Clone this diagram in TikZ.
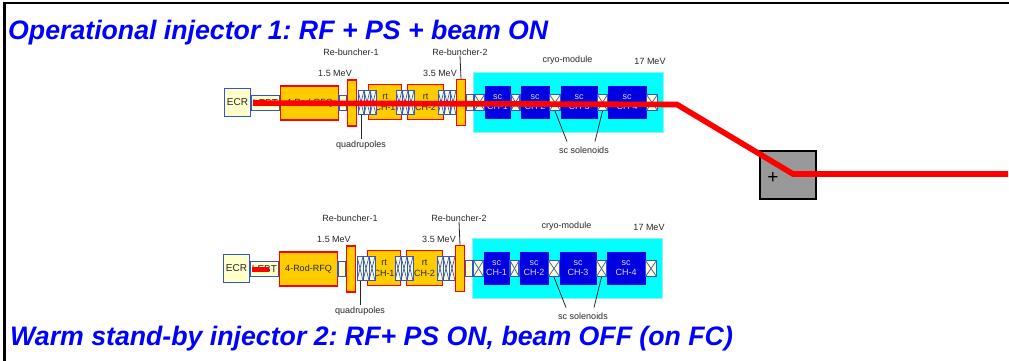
\documentclass[tikz,border=0pt]{standalone}
\usepackage{fontspec}
\setmainfont{Liberation Sans}
\usepackage{xcolor}
\usetikzlibrary{positioning, calc}
\definecolor{cellyellow}{HTML}{FFFFCC}
\definecolor{cellblue}{HTML}{3355CC}
\definecolor{tankorange}{HTML}{FFCC00}
\definecolor{scblue}{HTML}{0000E0}
\definecolor{cryofill}{HTML}{00FFFF}
\definecolor{cryoedge}{HTML}{99EEEE}
\definecolor{beamred}{HTML}{FF0000}
\definecolor{titleblue}{HTML}{0000FF}
\frenchspacing
\tikzset{
  lowbox/.style={draw=cellblue, fill=cellyellow, line width=1.2pt, inner sep=0pt, text=black!85, font=\fontsize{10}{10}\selectfont},
  tankbox/.style={draw=beamred, fill=tankorange, line width=1.1pt, inner sep=0pt, align=center, text=black!85, font=\fontsize{9}{10.5}\selectfont},
  crossbox/.style={lowbox, path picture={
    \draw[cellblue, line width=0.7pt] (path picture bounding box.south west) -- (path picture bounding box.north east);
    \draw[cellblue, line width=0.7pt] (path picture bounding box.north west) -- (path picture bounding box.south east);}},
  cryobox/.style={draw=cryoedge, fill=cryofill, line width=0.8pt, inner sep=0pt},
  scbox/.style={draw=titleblue, fill=scblue, inner sep=0pt, align=center, text=white!85!blue, font=\fontsize{9}{10.5}\selectfont},
  tag/.style={text=black!85, inner sep=0pt, font=\fontsize{9}{10}\selectfont},
  title/.style={text=titleblue, anchor=base west, inner sep=0pt, font=\fontsize{26.7}{28}\selectfont\bfseries\itshape},
  beam/.style={beamred, line width=5.6pt, line join=miter},
  leader/.style={black!85, line width=0.8pt}
}
\begin{document}
\begin{tikzpicture}[x=1pt,y=-1pt]
  \useasboundingbox (0,0) rectangle (1009,360);
  % Frame
  \draw[black, line width=2.6pt] (4.5,361) -- (4.5,3) -- (1010,3);

  % Both injectors
  \foreach \inj/\dx/\dy in {a/0/0,b/-1/166} {
    \begin{scope}[shift={(\dx,\dy)}]
      \node[cryobox, minimum width=190pt, minimum height=60pt] (cryo\inj) at (568.5,102.5) {};
      \node[lowbox, minimum width=28pt, minimum height=15pt] (lebt\inj) at (265.5,103) {LEBT};
      \node[lowbox, minimum width=26pt, minimum height=28pt] (ecr\inj) at (237.5,102.5) {ECR};
      \node[tankbox, minimum width=58pt, minimum height=34pt] (rfq\inj) at (309.5,103) {4-Rod-RFQ};
      \node[lowbox, minimum width=8pt, minimum height=15pt] (gapa\inj) at (343,103) {};
      \node[tankbox, minimum width=33pt, minimum height=35pt] (cha\inj) at (385,102) {rt\\CH-1};
      \node[tankbox, minimum width=36pt, minimum height=35pt] (chb\inj) at (425.5,102) {rt\\CH-2};
      \node[lowbox, minimum width=8pt, minimum height=16pt] (gapb\inj) at (470,102.5) {};

      % Quadrupole triplets
      \foreach \q/\qx in {1/358,2/396,3/438} {
        \foreach \c in {0,1,2} {
          \node[crossbox, line width=1pt, minimum width=6pt, minimum height=24pt] (quad\inj\q\c) at (\qx+\c*6+3,102.5) {};
        }
      }

      \node[tankbox, minimum width=9pt, minimum height=46pt] (rba\inj) at (352,103) {};
      \node[tankbox, minimum width=9pt, minimum height=46pt] (rbb\inj) at (461,102.5) {};

      % Superconducting cavities and solenoids
      \node[scbox, minimum width=25pt, minimum height=32pt] (sca\inj) at (497.5,102) {sc\\CH-1};
      \node[scbox, minimum width=28pt, minimum height=32pt] (scb\inj) at (535,102) {sc\\CH-2};
      \node[scbox, minimum width=36pt, minimum height=32pt] (scc\inj) at (579,102) {sc\\CH-3};
      \node[scbox, minimum width=38pt, minimum height=32pt] (scd\inj) at (627,102) {sc\\CH-4};
      \node[crossbox, minimum width=10pt, minimum height=16pt] (sola\inj) at (479.5,102.5) {};
      \node[crossbox, minimum width=9pt, minimum height=16pt] (solb\inj) at (515.5,102.5) {};
      \node[crossbox, minimum width=11pt, minimum height=16pt] (solc\inj) at (555,102.5) {};
      \node[crossbox, minimum width=10pt, minimum height=16pt] (sold\inj) at (602.5,102.5) {};
      \node[crossbox, minimum width=11pt, minimum height=16pt] (sole\inj) at (652,102.5) {};

      % Labels
      \node[tag] (rbatag\inj) at (351,52) {Re-buncher-1};
      \node[tag] (rbbtag\inj) at (460,52) {Re-buncher-2};
      \node[tag] (mevb\inj) at (335,73) {1.5 MeV};
      \node[tag] (mevc\inj) at (440,73) {3.5 MeV};
      \node[tag] (cryotag\inj) at (567.5,60) {cryo-module};
      \node[tag] (mevd\inj) at (650,61) {17 MeV};
      \node[tag] (quadtag\inj) at (361,145) {quadrupoles};
      \node[tag] (soltag\inj) at (584,150) {sc solenoids};

      \draw[leader] (rbb\inj.north) -- (rbbtag\inj.south);
      \draw[leader] (quad\inj10.south) -- ($(quadtag\inj.north)+(0,-2)$);
      \draw[leader] (solc\inj.south) -- ($(soltag\inj.north)+(-17,-5)$);
      \draw[leader] (sold\inj.south) -- ($(soltag\inj.north)+(11,-5)$);
    \end{scope}
  }

  % Bending magnet
  \node[draw=black, fill=black!40, line width=2pt, minimum width=56pt, minimum height=48pt, inner sep=0pt] (magnet) at (788,175) {};
  \node[inner sep=0pt, font=\fontsize{19}{19}\selectfont] (plus) at (773,178) {+};

  % Beam
  \coordinate (beamstart) at (253,103);
  \coordinate (beambend) at (677,104.5);
  \coordinate (beamkink) at (793,174);
  \coordinate (beamend) at (1008,174);
  \draw[beam] (beamstart) -- (beambend) -- (beamkink) -- (beamend);
  \coordinate (stopstart) at (252,269.5);
  \coordinate (stopend) at (269,269.5);
  \draw[beam] (stopstart) -- (stopend);

  % Titles
  \node[title] (titlea) at (8,39) {Operational injector 1: RF + PS + beam ON};
  \node[title] (titleb) at (10,345) {Warm stand-by injector 2: RF+ PS ON, beam OFF (on FC)};
\end{tikzpicture}
\end{document}
